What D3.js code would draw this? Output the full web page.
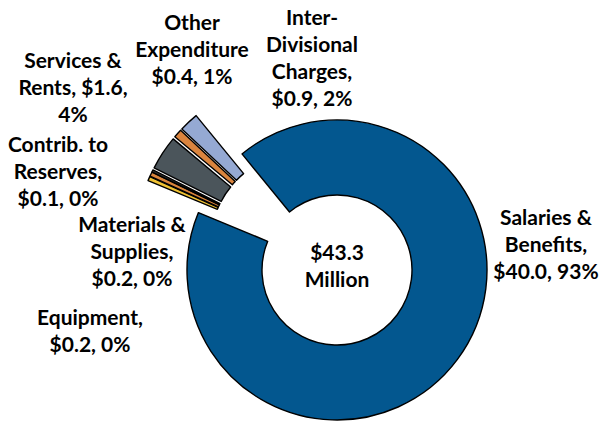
<!DOCTYPE html>
<html>
<head>
<meta charset="utf-8">
<script src="https://cdn.jsdelivr.net/npm/d3@7/dist/d3.min.js"></script>
<style>
  html, body { margin: 0; padding: 0; background: #ffffff; }
  svg { display: block; }
  text { font-family: Lato, "Open Sans", sans-serif; font-weight: 700; fill: #000; }
</style>
</head>
<body>
<svg id="chart" width="600" height="421"></svg>
<script>
// Expenditure breakdown, $ millions
const categories = [
  "Salaries & Benefits", "Equipment", "Materials & Supplies",
  "Contrib. to Reserves", "Services & Rents", "Other Expenditure",
  "Inter-Divisional Charges"
];
const values = [40.0, 0.2, 0.2, 0.1, 1.6, 0.4, 0.9];
const pctLabels = ["93%", "0%", "0%", "0%", "4%", "1%", "2%"];
// Label line breaks; {v} = dollar value, {p} = percent share
const labelPatterns = [
  ["Salaries &", "Benefits,", "{v}, {p}"],
  ["Equipment,", "{v}, {p}"],
  ["Materials &", "Supplies,", "{v}, {p}"],
  ["Contrib. to", "Reserves,", "{v}, {p}"],
  ["Services &", "Rents, {v},", "{p}"],
  ["Other", "Expenditure", "{v}, {p}"],
  ["Inter-", "Divisional", "Charges,", "{v}, {p}"]
];
const totalMillions = 43.3;
const colors = ["#03578F", "#F0C233", "#D9843C", "#3B3A36", "#4B555B", "#DA843E", "#95A9D3"];

// ---- layout ----
const svg = d3.select("#chart");
const cx = 337, cy = 270;
const rOuter = 150, rInner = 75;
const deg = Math.PI / 180;
const start = -39.3 * deg;

const pie = d3.pie().sort(null).value(d => d.value)
  .startAngle(start).endAngle(start + 2 * Math.PI);
const rows = categories.map((c, i) => ({ name: c, value: values[i], pct: pctLabels[i], color: colors[i], i }));
const arcsData = pie(rows);

const arc = d3.arc().innerRadius(rInner).outerRadius(rOuter);

const g = svg.append("g").attr("transform", `translate(${cx},${cy})`);

// main slice stays in place
g.append("path")
  .datum(arcsData[0])
  .attr("d", arc)
  .attr("fill", d => d.data.color)
  .attr("stroke", "#000")
  .attr("stroke-width", 1.4)
  .attr("stroke-linejoin", "round");

// the smaller slices are pulled out as a group, and each one a little further along its own bisector
const small = arcsData.slice(1);
const groupMid = (small[0].startAngle + small[small.length - 1].endAngle) / 2;
const groupPull = 41, slicePull = 19;
const gSmall = g.append("g")
  .attr("transform", `translate(${Math.sin(groupMid) * groupPull},${-Math.cos(groupMid) * groupPull})`);
gSmall.selectAll("path")
  .data(small)
  .join("path")
  .attr("transform", d => {
    const m = (d.startAngle + d.endAngle) / 2;
    return `translate(${Math.sin(m) * slicePull},${-Math.cos(m) * slicePull})`;
  })
  .attr("d", arc)
  .attr("fill", d => d.data.color)
  .attr("stroke", "#000")
  .attr("stroke-width", 1.4)
  .attr("stroke-linejoin", "round");

// ---- labels ----
const labelAnchor = [
  [546, 218], [90, 318], [132, 225], [58, 145], [73, 61], [192, 23], [312, 18]
];
const lineH = 27;
const fmtV = v => "$" + v.toFixed(1);

rows.forEach((r, i) => {
  const lines = labelPatterns[i].map(s => s.replace("{v}", fmtV(r.value)).replace("{p}", r.pct));
  const t = svg.append("text")
    .attr("text-anchor", "middle")
    .attr("font-size", 21);
  lines.forEach((ln, k) => {
    t.append("tspan")
      .attr("x", labelAnchor[i][0])
      .attr("y", labelAnchor[i][1] + k * lineH)
      .attr("dy", "0.35em")
      .text(ln);
  });
});

// centre total
const ct = svg.append("text").attr("text-anchor", "middle").attr("font-size", 21);
["$" + totalMillions.toFixed(1), "Million"].forEach((ln, k) => {
  ct.append("tspan").attr("x", cx).attr("y", 253 + k * lineH).attr("dy", "0.35em").text(ln);
});
</script>
</body>
</html>
